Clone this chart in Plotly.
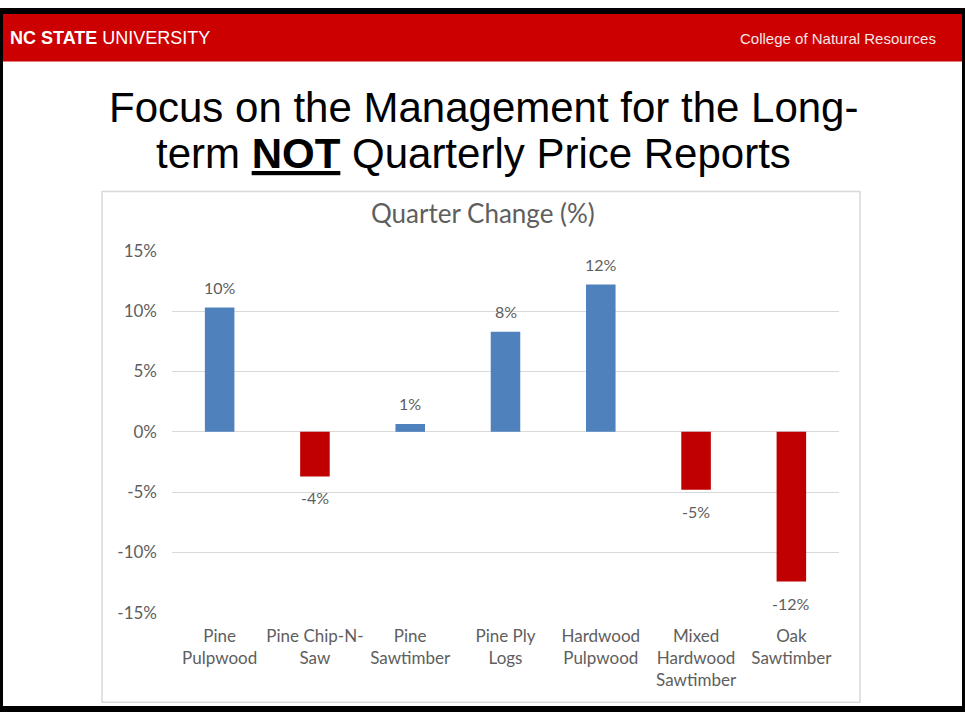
import plotly.graph_objects as go

categories = ["Pine<br>Pulpwood", "Pine Chip-N-<br>Saw", "Pine<br>Sawtimber", "Pine Ply<br>Logs",
              "Hardwood<br>Pulpwood", "Mixed<br>Hardwood<br>Sawtimber", "Oak<br>Sawtimber"]
change = [0.103, -0.037, 0.0065, 0.083, 0.122, -0.048, -0.124]
y_ticks = [-0.15, -0.10, -0.05, 0, 0.05, 0.10, 0.15]
y_tick_labels = ["-15%", "-10%", "-5%", "0%", "5%", "10%", "15%"]

W, H = 965, 719   # slide size the layout was measured on
blue, red = "#4F81BD", "#C00000"
gray_txt = "#5E5E5E"
chart_font = "Lato, Open Sans, sans-serif"
arial = "Liberation Sans, Arial, sans-serif"


def px_x(v):
    return v / W


def px_y(v):
    return 1 - v / H


colors = [blue if v >= 0 else red for v in change]

fig = go.Figure(go.Bar(
    x=categories,
    y=change,
    marker=dict(color=colors, line=dict(width=0)),
    width=0.31,
    hoverinfo="skip",
))

fig.update_layout(
    autosize=True,
    margin=dict(l=0, r=0, t=0, b=0),
    paper_bgcolor="white",
    plot_bgcolor="white",
    showlegend=False,
    font=dict(family=chart_font, color=gray_txt),
    xaxis=dict(
        domain=[px_x(172), px_x(839)],
        tickfont=dict(size=17, color=gray_txt),
        showgrid=False,
        ticks="",
        showline=False,
        ticklabelstandoff=11,
    ),
    yaxis=dict(
        domain=[px_y(620), px_y(247)],
        range=[-0.15, 0.15],
        tickvals=y_ticks,
        ticktext=y_tick_labels,
        tickfont=dict(size=17, color=gray_txt),
        gridcolor="#D9D9D9",
        gridwidth=1,
        zeroline=True,
        zerolinecolor="#D9D9D9",
        zerolinewidth=1,
        ticks="",
        showline=False,
        ticklabelstandoff=14,
    ),
)

shapes = [
    # red header band
    dict(type="rect", xref="paper", yref="paper", x0=0, x1=1, y0=px_y(52), y1=1,
         fillcolor="#CC0000", line=dict(width=0), layer="below"),
    # chart frame
    dict(type="rect", xref="paper", yref="paper", x0=px_x(102), x1=px_x(860),
         y0=px_y(712), y1=px_y(186), line=dict(color="#D9D9D9", width=1.5),
         fillcolor="rgba(0,0,0,0)", layer="below"),
    # slide border
    dict(type="rect", xref="paper", yref="paper", x0=0, x1=1, y0=0, y1=1,
         line=dict(color="black", width=6), fillcolor="rgba(0,0,0,0)"),
]
fig.update_layout(shapes=shapes)

annotations = [
    dict(text="<b>NC STATE</b> UNIVERSITY", x=px_x(8), y=px_y(28), xanchor="left", yanchor="middle",
         font=dict(family=arial, size=18, color="white")),
    dict(text="College of Natural Resources", x=px_x(938), y=px_y(28), xanchor="right", yanchor="middle",
         font=dict(family=arial, size=15, color="#F6E6E6")),
    dict(text="Focus on the Management for the Long-", x=px_x(483), y=px_y(99.5),
         xanchor="center", yanchor="middle",
         font=dict(family=arial, size=42, color="black")),
    dict(text="term <b><span style='text-decoration:underline'>NOT</span></b> Quarterly Price Reports",
         x=px_x(473), y=px_y(147), xanchor="center", yanchor="middle",
         font=dict(family=arial, size=42, color="black")),
    dict(text="Quarter Change (%)", x=px_x(483), y=px_y(208), xanchor="center", yanchor="middle",
         font=dict(family=chart_font, size=26, color=gray_txt)),
]
for a in annotations:
    a.update(xref="paper", yref="paper", showarrow=False)

# data labels, a little off the bar ends like the Excel chart
for cat, v in zip(categories, change):
    annotations.append(dict(
        x=cat, y=v, xref="x", yref="y", text=f"{v:.0%}", showarrow=False,
        yanchor="bottom" if v >= 0 else "top", yshift=9 if v >= 0 else -10,
        font=dict(family=chart_font, size=16, color=gray_txt),
    ))
fig.update_layout(annotations=annotations)

page = ("document.documentElement.style.overflow='hidden';"
        "document.body.style.margin='0';document.body.style.overflow='hidden';"
        "var gd=document.getElementById('{plot_id}');"
        "gd.style.position='fixed';gd.style.top='0';gd.style.left='0';")
fig.write_html("out.html", config={"displayModeBar": False, "responsive": True},
               default_width="100vw", default_height="100vh", post_script=page)
